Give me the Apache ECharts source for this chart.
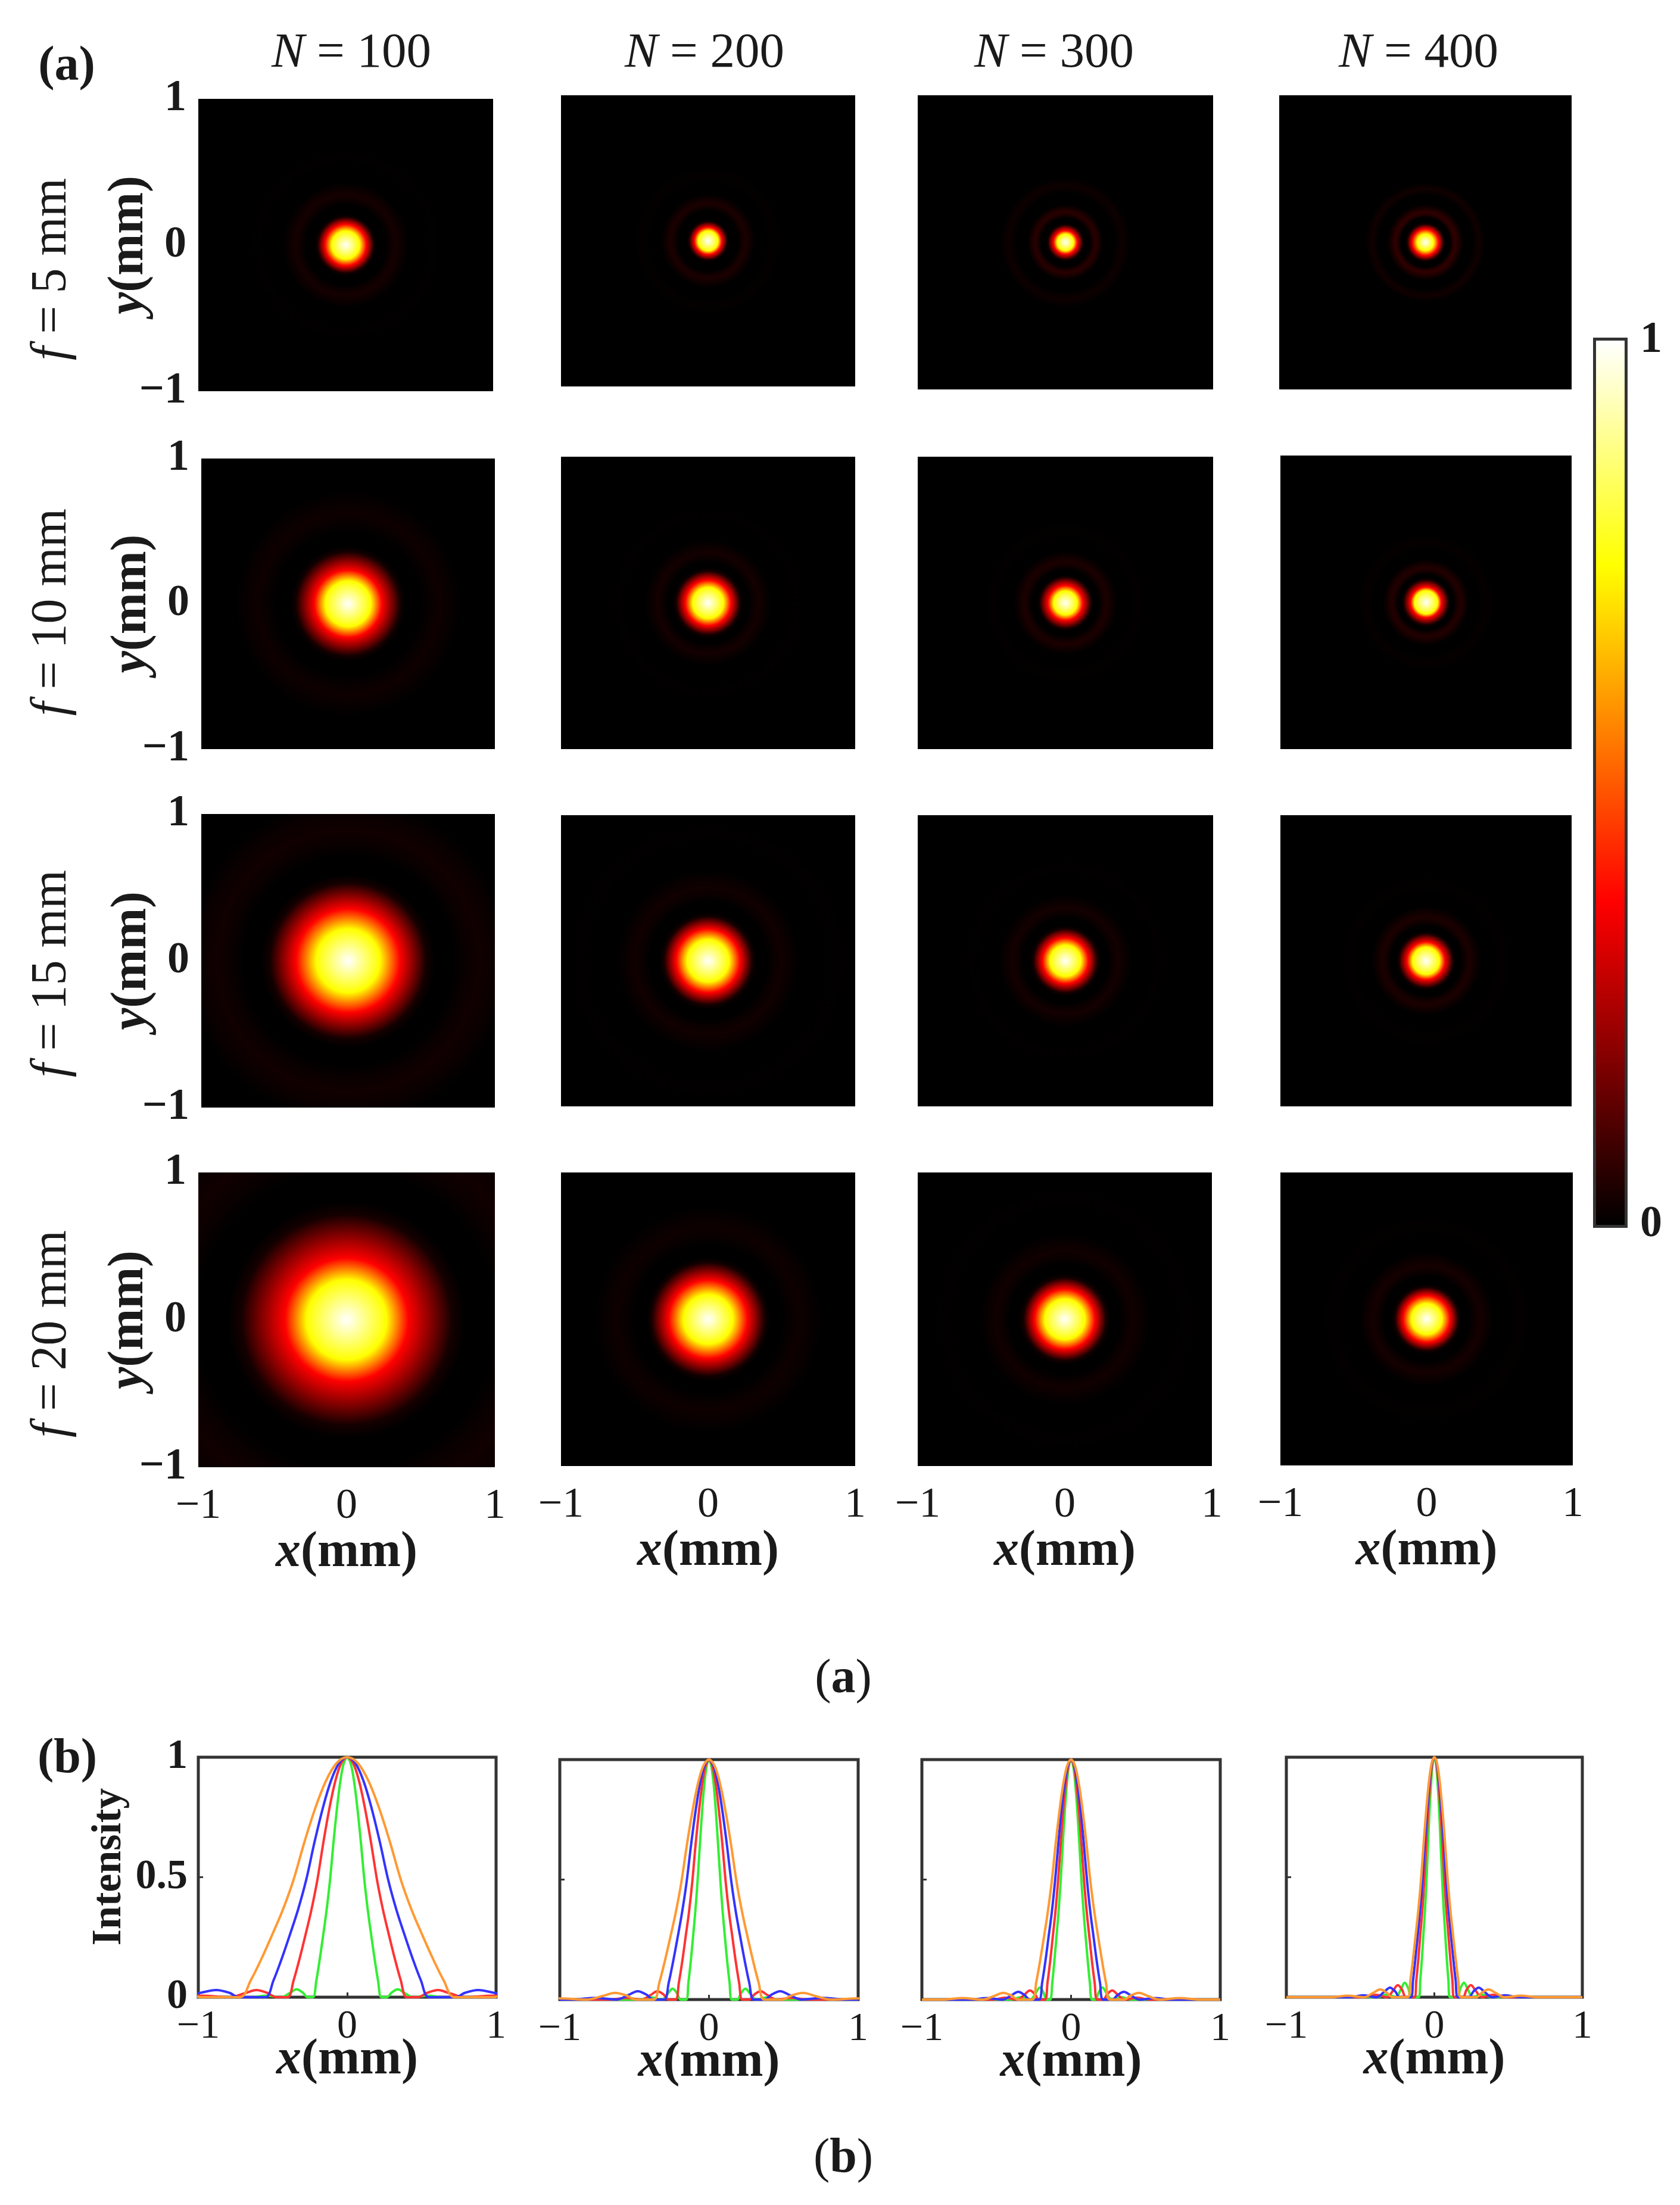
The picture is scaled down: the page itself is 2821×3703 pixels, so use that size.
<!DOCTYPE html>
<html><head><meta charset="utf-8">
<style>html,body{margin:0;padding:0;background:#fff}#c{width:2821px;height:3703px}</style>
<script src="https://cdn.jsdelivr.net/npm/echarts@6/dist/echarts.min.js"></script>
</head><body><div id="c"></div>
<script>
// ---- values ----
const apertures = [100, 200, 300, 400];     // N, one column each
const focals = [5, 10, 15, 20];             // f in mm, one row each
const curveColors = ['#33ee33', '#ff3333', '#3333ff', '#ff9933']; // f = 5,10,15,20

// panel (b): line profiles, r (mm) and normalised intensity (symmetric about 0)
const rN100F5  = [0,.023,.046,.069,.092,.115,.138,.161,.184,.207,.23,.265,.30,.34,.384,.442,.544,.646,1];
const iN100F5  = [1,.975,.9,.785,.645,.49,.365,.26,.16,.07,0,0,.02,.033,.018,0,.006,0,0];
const rN100F10 = [0,.04,.08,.12,.16,.2,.24,.28,.32,.36,.4,.476,.537,.61,.689,.793,.976,1.1];
const iN100F10 = [1,.975,.9,.785,.645,.49,.365,.26,.16,.07,0,0,.018,.03,.016,0,.006,0];
const rN100F15 = [0,.055,.11,.165,.22,.275,.33,.385,.44,.495,.55,.73,.79,.88,.994,1.14,1.3];
const iN100F15 = [1,.975,.9,.785,.645,.49,.365,.26,.16,.07,0,0,.018,.03,.017,0,0];
const rN100F20 = [0,.072,.144,.216,.288,.36,.432,.504,.576,.648,.72,.975,1.1,1.25];
const iN100F20 = [1,.975,.9,.785,.645,.49,.365,.26,.16,.07,0,0,.015,.025];

const rN200F5  = [0,.015,.031,.046,.061,.077,.092,.107,.122,.138,.153,.19,.215,.244,.276,.317,.39,.464,1];
const iN200F5  = [1,.975,.9,.785,.645,.49,.365,.26,.16,.07,0,0,.027,.045,.025,0,.009,0,0];
const rN200F10 = [0,.022,.045,.067,.09,.112,.134,.157,.179,.202,.224,.27,.304,.346,.391,.45,.554,.657,1];
const iN200F10 = [1,.975,.9,.785,.645,.49,.365,.26,.16,.07,0,0,.021,.035,.019,0,.007,0,0];
const rN200F15 = [0,.03,.06,.09,.12,.15,.18,.21,.24,.27,.3,.373,.42,.478,.54,.621,.765,.908,1];
const iN200F15 = [1,.975,.9,.785,.645,.49,.365,.26,.16,.07,0,0,.021,.035,.019,0,.007,0,0];
const rN200F20 = [0,.037,.074,.111,.148,.185,.222,.259,.296,.333,.37,.49,.554,.63,.712,.819,1.008,1.2];
const iN200F20 = [1,.975,.9,.785,.645,.49,.365,.26,.16,.07,0,0,.017,.028,.015,0,.005,0];

const rN300F5  = [0,.014,.028,.042,.056,.07,.084,.098,.112,.126,.14,.164,.185,.21,.237,.273,.336,.399,1];
const iN300F5  = [1,.975,.9,.785,.645,.49,.365,.26,.16,.07,0,0,.03,.05,.027,0,.01,0,0];
const rN300F10 = [0,.018,.035,.053,.07,.088,.105,.123,.14,.158,.175,.215,.243,.276,.312,.359,.442,.524,1];
const iN300F10 = [1,.975,.9,.785,.645,.49,.365,.26,.16,.07,0,0,.023,.038,.021,0,.008,0,0];
const rN300F15 = [0,.022,.043,.065,.086,.108,.129,.151,.172,.194,.215,.276,.312,.354,.4,.46,.566,.673,1];
const iN300F15 = [1,.975,.9,.785,.645,.49,.365,.26,.16,.07,0,0,.019,.032,.018,0,.006,0,0];
const rN300F20 = [0,.026,.052,.078,.104,.13,.156,.182,.208,.234,.26,.355,.4,.455,.514,.592,.728,.865,1];
const iN300F20 = [1,.975,.9,.785,.645,.49,.365,.26,.16,.07,0,0,.017,.028,.015,0,.006,0,0];

const rN400F5  = [0,.011,.021,.032,.042,.053,.063,.074,.084,.095,.105,.156,.176,.2,.226,.26,.32,.38,1];
const iN400F5  = [1,.975,.9,.785,.645,.49,.365,.26,.16,.07,0,0,.036,.06,.033,0,.012,0,0];
const rN400F10 = [0,.014,.027,.041,.054,.068,.081,.095,.108,.122,.135,.193,.217,.247,.279,.321,.395,.469,1];
const iN400F10 = [1,.975,.9,.785,.645,.49,.365,.26,.16,.07,0,0,.03,.05,.027,0,.01,0,0];
const rN400F15 = [0,.016,.032,.048,.064,.08,.096,.112,.128,.144,.16,.234,.264,.3,.339,.39,.48,.57,1];
const iN400F15 = [1,.975,.9,.785,.645,.49,.365,.26,.16,.07,0,0,.024,.04,.022,0,.008,0,0];
const rN400F20 = [0,.018,.036,.054,.072,.09,.108,.126,.144,.162,.18,.285,.322,.366,.414,.476,.586,.695,1];
const iN400F20 = [1,.975,.9,.785,.645,.49,.365,.26,.16,.07,0,0,.019,.032,.018,0,.006,0,0];

const hrN100F5  = [0,.095,.14,.19,.21,.272,.306,.34,.381,.425,.51,.595,.68];
const hiN100F5  = [1,.746,.365,.03,0,0,.018,.03,.017,0,0,.003,0];
const hrN200F5  = [0,.068,.093,.13,.145,.204,.23,.255,.286,.319,.383,.446,.51];
const hiN200F5  = [1,.746,.365,.03,0,0,.024,.04,.022,0,0,.006,0];
const hrN300F5  = [0,.056,.08,.118,.13,.164,.185,.205,.23,.256,.33,.385,.44];
const hiN300F5  = [1,.746,.365,.03,0,0,.036,.06,.033,0,0,.02,0];
const hrN400F5  = [0,.056,.09,.125,.14,.17,.185,.205,.23,.26,.32,.365,.41];
const hiN400F5  = [1,.746,.365,.03,0,0,.042,.07,.038,0,0,.025,0];

const hrN100F10 = [0,.155,.23,.354,.39,.49,.555,.615,.69,.77,.92,1.08,1.23];
const hiN100F10 = [1,.746,.365,.03,0,0,.012,.02,.011,0,0,.002,0];
const hrN200F10 = [0,.105,.155,.217,.24,.276,.31,.345,.386,.43,.52,.60,.69];
const hiN200F10 = [1,.746,.365,.03,0,0,.017,.028,.015,0,0,.003,0];
const hrN300F10 = [0,.08,.118,.174,.19,.224,.252,.28,.314,.35,.42,.49,.56];
const hiN300F10 = [1,.746,.365,.03,0,0,.024,.04,.022,0,0,.004,0];
const hrN400F10 = [0,.08,.105,.155,.17,.19,.212,.236,.264,.295,.354,.413,.472];
const hiN400F10 = [1,.746,.365,.03,0,0,.03,.05,.028,0,0,.008,0];

const hrN100F15 = [0,.217,.354,.53,.59,.71,.80,.89,1.0,1.11,1.33,1.56,1.78];
const hiN100F15 = [1,.746,.365,.03,0,0,.015,.025,.014,0,0,.002,0];
const hrN200F15 = [0,.143,.217,.30,.33,.40,.447,.497,.557,.62,.745,.87,.99];
const hiN200F15 = [1,.746,.365,.03,0,0,.014,.024,.013,0,0,.003,0];
const hrN300F15 = [0,.105,.155,.217,.24,.288,.324,.36,.403,.45,.54,.63,.72];
const hiN300F15 = [1,.746,.365,.03,0,0,.017,.028,.015,0,0,.003,0];
const hrN400F15 = [0,.093,.13,.186,.205,.24,.27,.30,.336,.375,.45,.525,.60];
const hiN400F15 = [1,.746,.365,.03,0,0,.024,.04,.022,0,0,.005,0];

const hrN100F20 = [0,.27,.416,.71,.8,1.0,1.12,1.25,1.4,1.56];
const hiN100F20 = [1,.746,.365,.03,0,0,.015,.025,.014,0];
const hrN200F20 = [0,.168,.267,.385,.42,.50,.558,.62,.694,.775,.93,1.085,1.24];
const hiN200F20 = [1,.746,.365,.03,0,0,.012,.02,.011,0,0,.002,0];
const hrN300F20 = [0,.137,.205,.28,.31,.373,.42,.466,.522,.583,.70,.815,.93];
const hiN300F20 = [1,.746,.365,.03,0,0,.014,.024,.013,0,0,.003,0];
const hrN400F20 = [0,.105,.16,.217,.24,.293,.33,.366,.41,.458,.55,.64,.73];
const hiN400F20 = [1,.746,.365,.03,0,0,.018,.03,.017,0,0,.004,0];

// [fRow][NCol]
const lineProfiles = [
  [[rN100F5,iN100F5],[rN200F5,iN200F5],[rN300F5,iN300F5],[rN400F5,iN400F5]],
  [[rN100F10,iN100F10],[rN200F10,iN200F10],[rN300F10,iN300F10],[rN400F10,iN400F10]],
  [[rN100F15,iN100F15],[rN200F15,iN200F15],[rN300F15,iN300F15],[rN400F15,iN400F15]],
  [[rN100F20,iN100F20],[rN200F20,iN200F20],[rN300F20,iN300F20],[rN400F20,iN400F20]]
];
const heatProfiles = [
  [[hrN100F5,hiN100F5],[hrN200F5,hiN200F5],[hrN300F5,hiN300F5],[hrN400F5,hiN400F5]],
  [[hrN100F10,hiN100F10],[hrN200F10,hiN200F10],[hrN300F10,hiN300F10],[hrN400F10,hiN400F10]],
  [[hrN100F15,hiN100F15],[hrN200F15,hiN200F15],[hrN300F15,hiN300F15],[hrN400F15,hiN400F15]],
  [[hrN100F20,hiN100F20],[hrN200F20,hiN200F20],[hrN300F20,hiN300F20],[hrN400F20,hiN400F20]]
];

// ---- layout (pixels): [left, right, top, bottom] ----
const heatBoxes = [
  [[333,828,166,657],[942,1436,160,649],[1541,2037,160,654],[2148,2639,160,654]],
  [[338,831,770,1258],[942,1436,767,1258],[1541,2037,767,1258],[2150,2639,765,1258]],
  [[338,831,1367,1860],[942,1436,1369,1858],[1541,2037,1369,1858],[2150,2639,1369,1858]],
  [[333,831,1969,2464],[942,1436,1969,2462],[1541,2035,1969,2462],[2150,2641,1969,2461]]
];
const lineBoxes = [[333,833,2951,3354],[940,1441,2955,3358],[1548,2049,2955,3358],[2160,2657,2951,3354]];
const barBox = [2680,2728,572,2057];

const serif = '"Liberation Serif","Times New Roman",serif';
const INK = '#1a1a1a';

// MATLAB "hot" colour ramp
function hot(v){
  const r = Math.min(1, v/.365), g = Math.max(0, Math.min(1,(v-.365)/.381)), b = Math.max(0,(v-.746)/.254);
  return 'rgb('+Math.round(r*255)+','+Math.round(g*255)+','+Math.round(b*255)+')';
}
function minus(v){ return v < 0 ? '\u2212' + (-v) : String(v); }
const axisNameRich = (txt) => ({
  name: '{i|'+txt+'}{m|(mm)}',
  nameMoveOverlap: false,
  nameTextStyle: { rich: {
    i: {fontFamily:serif,fontStyle:'italic',fontWeight:'bold',fontSize:84,color:INK},
    m: {fontFamily:serif,fontWeight:'bold',fontSize:84,color:INK}
  }}
});

const grids=[], xAxes=[], yAxes=[], series=[];
function addGrid(box, extra){
  grids.push(Object.assign({left:box[0],top:box[2],width:box[1]-box[0],height:box[3]-box[2],containLabel:false,show:true,borderWidth:0}, extra||{}));
  return grids.length-1;
}

// heat panels
heatProfiles.forEach((row,ri)=>row.forEach((p,ci)=>{
  const g = addGrid(heatBoxes[ri][ci], {backgroundColor:'#000'});
  const bottom = ri===3, left = ci===0;
  xAxes.push(Object.assign({gridIndex:g,type:'value',min:-1,max:1,interval:1,
    axisLine:{show:false,onZero:false},axisTick:{show:false},splitLine:{show:false},
    axisLabel:{show:bottom,margin:30,fontFamily:serif,fontSize:72,color:INK,fontWeight:'normal',formatter:minus},
    nameLocation:'middle',nameGap:102}, bottom?axisNameRich('x'):{}));
  yAxes.push(Object.assign({gridIndex:g,type:'value',min:-1,max:1,interval:1,
    axisLine:{show:false,onZero:false},axisTick:{show:false},splitLine:{show:false},
    axisLabel:{show:left,margin:20,fontFamily:serif,fontSize:74,color:INK,fontWeight:'bold',formatter:minus},
    nameLocation:'middle',nameGap:74,nameRotate:90}, left?axisNameRich('y'):{}));
  const rs=p[0], is=p[1], rMax=rs[rs.length-1];
  series.push({type:'custom',xAxisIndex:g,yAxisIndex:g,clip:true,silent:true,
    data:[[0,0,rMax]],encode:{x:0,y:1},
    renderItem:(params,api)=>{
      const c=api.coord([api.value(0),api.value(1)]);
      const rad=api.size([api.value(2),api.value(2)])[0];
      const stops=rs.map((r,i)=>({offset:r/rMax,color:hot(is[i])}));
      return {type:'circle',shape:{cx:c[0],cy:c[1],r:rad},
        style:{fill:new echarts.graphic.RadialGradient(.5,.5,.5,stops)}};
    }});
}));

// line panels
lineBoxes.forEach((box,ci)=>{
  const g=addGrid(box,{borderWidth:5,borderColor:'#333',backgroundColor:'#fff'});
  xAxes.push(Object.assign({gridIndex:g,type:'value',min:-1,max:1,interval:1,
    axisLine:{show:false,onZero:false},splitLine:{show:false},
    axisTick:{show:true,inside:true,length:8,lineStyle:{color:'#333',width:3}},
    axisLabel:{margin:16,fontFamily:serif,fontSize:68,color:INK,fontWeight:'normal',formatter:minus},
    nameLocation:'middle',nameGap:64},axisNameRich('x')));
  yAxes.push({gridIndex:g,type:'value',min:0,max:1,interval:.5,
    axisLine:{show:false,onZero:false},splitLine:{show:false},
    axisTick:{show:true,inside:true,length:8,lineStyle:{color:'#333',width:3}},
    axisLabel:{show:ci===0,margin:18,fontFamily:serif,fontSize:70,color:INK,fontWeight:'bold'}});
  lineProfiles.forEach((row,ri)=>{
    const rs=row[ci][0], is=row[ci][1];
    const right=rs.map((r,i)=>[r,is[i]]);
    const leftSide=right.slice(1).reverse().map(d=>[-d[0],d[1]]);
    series.push({type:'line',xAxisIndex:g,yAxisIndex:g,name:'f = '+focals[ri]+' mm',
      data:leftSide.concat(right),showSymbol:false,smooth:.35,clip:true,silent:true,
      lineStyle:{color:curveColors[ri],width:4},itemStyle:{color:curveColors[ri]}});
  });
});

// colour bar
const gBar=addGrid(barBox,{borderWidth:10,borderColor:'#333'});
xAxes.push({gridIndex:gBar,type:'value',min:0,max:1,show:false});
yAxes.push({gridIndex:gBar,type:'value',min:0,max:1,interval:1,position:'right',
  axisLine:{show:false,onZero:false},axisTick:{show:false},splitLine:{show:false},
  axisLabel:{margin:26,fontFamily:serif,fontSize:74,fontWeight:'bold',color:INK}});
const barStops=[0,.365,.746,1];
series.push({type:'custom',xAxisIndex:gBar,yAxisIndex:gBar,silent:true,clip:true,
  data:[[0,0,1,1]],
  renderItem:(params,api)=>{
    const a=api.coord([api.value(0),api.value(1)]), b=api.coord([api.value(2),api.value(3)]);
    return {type:'rect',shape:{x:a[0],y:b[1],width:b[0]-a[0],height:a[1]-b[1]},
      style:{fill:new echarts.graphic.LinearGradient(0,1,0,0,barStops.map(v=>({offset:v,color:hot(v)})))}};
  }});

// free texts
const txt=(x,y,rich,text,rot)=>({type:'text',x:x,y:y,rotation:rot||0,z:10,
  style:{text:text,rich:rich,align:'center',verticalAlign:'middle',fill:INK}});
const richTitle={i:{fontFamily:serif,fontStyle:'italic',fontSize:83,color:INK},t:{fontFamily:serif,fontSize:83,color:INK}};
const richSide={i:{fontFamily:serif,fontStyle:'italic',fontSize:84,color:INK},t:{fontFamily:serif,fontSize:84,color:INK}};
const richBold={b:{fontFamily:serif,fontWeight:'bold',fontSize:82,color:INK},t:{fontFamily:serif,fontSize:82,color:INK}};
const colTitleX=[590,1183,1770,2382], rowLabelY=[452,1028,1635,2240];
const graphics=[
  txt(112,113,richBold,'{b|(a)}'),
  txt(113,2955,richBold,'{b|(b)}'),
  txt(1416,2821,richBold,'{t|(}{b|a}{t|)}'),
  txt(1416,3626,richBold,'{t|(}{b|b}{t|)}'),
  txt(184,3135,{b:{fontFamily:serif,fontWeight:'bold',fontSize:70,color:INK}},'{b|Intensity}',Math.PI/2)
];
apertures.forEach((n,i)=>graphics.push(txt(colTitleX[i],90,richTitle,'{i|N}{t| = '+n+'}')));
focals.forEach((f,i)=>graphics.push(txt(88,rowLabelY[i],richSide,'{i|f}{t| = '+f+' mm}',Math.PI/2)));

const chart=echarts.init(document.getElementById('c'),null,{renderer:'canvas'});
chart.setOption({animation:false,backgroundColor:'#fff',grid:grids,xAxis:xAxes,yAxis:yAxes,series:series,graphic:graphics});
</script></body></html>
